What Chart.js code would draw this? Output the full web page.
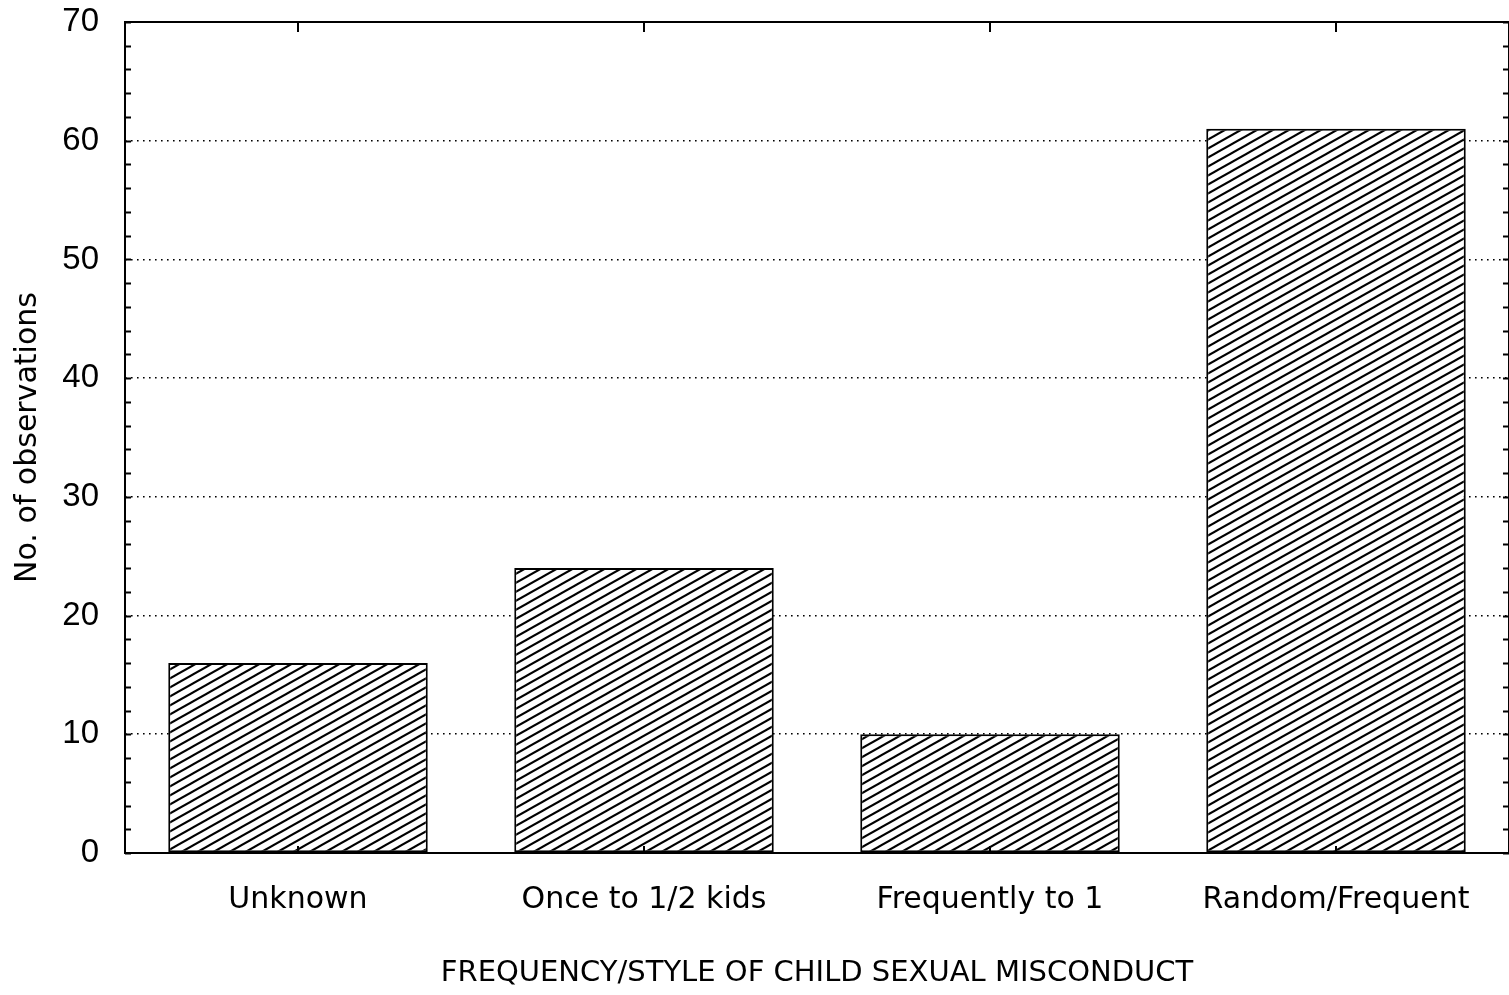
<!DOCTYPE html>
<html>
<head>
<meta charset="utf-8">
<script src="https://cdn.jsdelivr.net/npm/chart.js@4.4.1/dist/chart.umd.min.js"></script>
<style>
html,body{margin:0;padding:0;background:#fff;}
#wrap{width:1509px;height:995px;position:relative;}
</style>
</head>
<body>
<div id="wrap"><canvas id="c" width="1509" height="995"></canvas></div>
<script>
const categories = ["Unknown", "Once to 1/2 kids", "Frequently to 1", "Random/Frequent"];
const observations = [16, 24, 10, 61];
const yTicks = [0, 10, 20, 30, 40, 50, 60, 70];
const xTitle = "FREQUENCY/STYLE OF CHILD SEXUAL MISCONDUCT";
const yTitle = "No. of observations";

function makeHatch() {
  const w = 16, h = 9;
  const c = document.createElement('canvas');
  c.width = w; c.height = h;
  const g = c.getContext('2d');
  g.fillStyle = '#fff';
  g.fillRect(0, 0, w, h);
  g.strokeStyle = '#000';
  g.lineWidth = 2.1;
  g.lineCap = 'butt';
  for (let k = -1; k <= 1; k++) {
    g.beginPath();
    g.moveTo(-w, h * 2 + k * h);
    g.lineTo(2 * w, -h + k * h);
    g.stroke();
  }
  return document.getElementById('c').getContext('2d').createPattern(c, 'repeat');
}

const framePlugin = {
  id: 'frame',
  afterDatasetsDraw(chart) {
    const ctx = chart.ctx, a = chart.chartArea;
    const ys = chart.scales.y, xs = chart.scales.x;
    ctx.save();
    ctx.strokeStyle = '#000';
    ctx.lineWidth = 2;
    ctx.strokeRect(a.left, a.top, a.right - a.left, a.bottom - a.top);
    ctx.beginPath();
    for (let v = ys.min; v <= ys.max; v += 2) {
      const py = Math.round(ys.getPixelForValue(v)) + 0.5;
      ctx.moveTo(a.left, py); ctx.lineTo(a.left + 6, py);
      ctx.moveTo(a.right, py); ctx.lineTo(a.right - 6, py);
    }
    for (let i = 0; i < categories.length; i++) {
      const px = Math.round(xs.getPixelForValue(i));
      ctx.moveTo(px, a.top); ctx.lineTo(px, a.top + 10);
      ctx.moveTo(px, a.bottom); ctx.lineTo(px, a.bottom - 7);
    }
    ctx.stroke();
    ctx.restore();
  }
};

new Chart(document.getElementById('c'), {
  type: 'bar',
  data: {
    labels: categories,
    datasets: [{
      data: observations,
      backgroundColor: makeHatch(),
      borderColor: '#000',
      borderWidth: 2,
      borderSkipped: false,
      barPercentage: 0.75,
      categoryPercentage: 1.0
    }]
  },
  options: {
    responsive: false,
    animation: false,
    devicePixelRatio: 1,
    layout: { padding: { top: 22, right: 0, bottom: 4, left: 10 } },
    plugins: { legend: { display: false }, tooltip: { enabled: false } },
    scales: {
      x: {
        offset: true,
        grid: { display: false, drawTicks: false },
        border: { display: false },
        ticks: {
          color: '#000', padding: 29, maxRotation: 0,
          font: { family: 'DejaVu Sans', size: 30 }
        },
        title: {
          display: true, text: xTitle, color: '#000',
          font: { family: 'DejaVu Sans', size: 29 }, padding: 0
        },
        afterFit(s) { s.height = 995 - 4 - 853; s.paddingLeft = 0; s.paddingRight = 0; }
      },
      y: {
        min: 0, max: 70,
        afterBuildTicks(s) { s.ticks = yTicks.map(v => ({ value: v })); },
        grid: {
          drawTicks: false,
          color: ctx => (ctx.tick && (ctx.tick.value === 0 || ctx.tick.value === 70)) ? 'rgba(0,0,0,0)' : '#000',
          lineWidth: 1.6
        },
        border: { display: false, dash: [1.6, 4.4] },
        ticks: {
          color: '#000', padding: 26,
          font: { family: 'Liberation Sans', size: 33 }
        },
        title: {
          display: true, text: yTitle, color: '#000',
          font: { family: 'DejaVu Sans', size: 30 }, padding: 0
        },
        afterFit(s) { s.width = 125 - 10; s.paddingTop = 0; s.paddingBottom = 0; }
      }
    }
  },
  plugins: [framePlugin]
});
</script>
</body>
</html>
